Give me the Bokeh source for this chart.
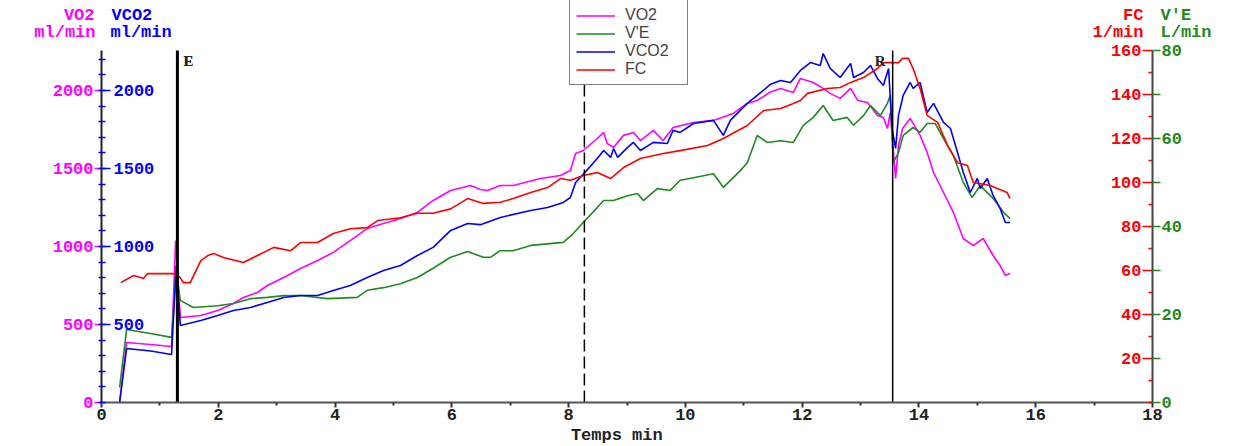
from bokeh.plotting import figure
from bokeh.models import (Range1d, LinearAxis, FixedTicker, Label, Legend, LegendItem)
from bokeh.embed import file_html
from bokeh.resources import INLINE

# ---------------- data ----------------
t_vo2 = [0.31, 0.43, 0.84, 1.20, 1.27, 1.35, 1.70, 1.99, 2.26, 2.43, 2.67, 2.84, 3.12, 3.41, 3.70,
         3.97, 4.26, 4.55, 4.83, 5.12, 5.41, 5.68, 5.98, 6.32, 6.49, 6.61, 6.83, 7.05, 7.35, 7.52,
         7.86, 8.03, 8.12, 8.25, 8.49, 8.60, 8.66, 8.77, 8.94, 9.11, 9.23, 9.45, 9.62, 9.79, 10.14,
         10.48, 10.82, 11.06, 11.23, 11.46, 11.63, 11.85, 11.97, 12.19, 12.36, 12.48, 12.65, 12.83,
         12.95, 13.12, 13.29, 13.39, 13.46, 13.51, 13.60, 13.65, 13.72, 13.85, 14.02, 14.14, 14.25,
         14.42, 14.59, 14.76, 14.93, 15.10, 15.27, 15.39, 15.48, 15.56]
vo2 = [0, 385, 372, 359, 1038, 545, 558, 590, 635, 673, 705, 750, 801, 859, 910,
       962, 1038, 1115, 1147, 1179, 1218, 1295, 1359, 1391, 1365, 1359, 1391, 1391, 1420, 1436,
       1455, 1487, 1596, 1615, 1692, 1731, 1660, 1635, 1712, 1731, 1679, 1744, 1679, 1763, 1795,
       1808, 1853, 1917, 1936, 1990, 2013, 1987, 2077, 2051, 2013, 1981, 1949, 2013,
       1936, 1923, 1840, 1827, 1756, 1859, 1436, 1647, 1756, 1821, 1712, 1603, 1474,
       1346, 1218, 1051, 1006, 1051, 942, 878, 814, 827]

t_vco2 = [0.31, 0.43, 0.84, 1.20, 1.28, 1.35, 1.70, 1.99, 2.26, 2.55, 2.84, 3.12, 3.41, 3.70, 3.97,
          4.26, 4.55, 4.83, 5.12, 5.41, 5.68, 5.98, 6.27, 6.49, 6.83, 7.35, 7.64, 7.91, 8.03, 8.12,
          8.25, 8.49, 8.60, 8.72, 8.77, 8.84, 9.01, 9.11, 9.23, 9.45, 9.69, 9.79, 9.91, 10.14, 10.48,
          10.65, 10.77, 11.06, 11.23, 11.46, 11.63, 11.80, 11.97, 12.14, 12.31, 12.36, 12.48, 12.65,
          12.83, 12.88, 13.05, 13.17, 13.29, 13.39, 13.48, 13.54, 13.60, 13.65, 13.73, 13.85, 13.90,
          14.02, 14.14, 14.25, 14.42, 14.54, 14.66, 14.76, 14.88, 15.00, 15.05, 15.17, 15.27, 15.39,
          15.48, 15.56]
vco2 = [0, 346, 330, 308, 878, 494, 526, 558, 590, 609, 641, 673, 686, 686, 718,
        750, 801, 846, 878, 942, 994, 1103, 1147, 1140, 1186, 1231, 1250, 1282, 1314, 1410,
        1462, 1564, 1615, 1571, 1628, 1571, 1635, 1667, 1615, 1667, 1660, 1744, 1731, 1788, 1808,
        1712, 1808, 1917, 1968, 2040, 2064, 2051, 2128, 2179, 2160, 2237, 2141, 2083,
        2173, 2083, 2115, 2160, 2077, 2032, 2141, 1756, 1628, 1840, 1968, 2051, 2013,
        2051, 1859, 1917, 1795, 1756, 1603, 1474, 1346, 1436, 1372, 1436, 1327, 1244,
        1154, 1154]

t_fc = [0.33, 0.55, 0.72, 0.79, 1.23, 1.35, 1.40, 1.52, 1.70, 1.82, 1.92, 2.09, 2.43, 2.67, 2.95,
        3.24, 3.41, 3.70, 3.97, 4.26, 4.55, 4.73, 5.12, 5.41, 5.68, 5.98, 6.27, 6.54, 6.83, 7.05,
        7.35, 7.64, 7.86, 8.03, 8.25, 8.49, 8.72, 8.94, 9.23, 9.62, 9.91, 10.38, 10.65, 11.06, 11.34,
        11.63, 11.85, 11.97, 12.09, 12.43, 12.65, 12.83, 13.05, 13.29, 13.39, 13.65, 13.72, 13.82,
        13.90, 14.02, 14.14, 14.32, 14.49, 14.66, 14.83, 14.93, 15.22, 15.51, 15.56]
fc = [54.5, 57.7, 56.4, 58.6, 58.6, 56.8, 54.5, 54.5, 64.5, 66.8, 67.7, 65.9, 63.6, 66.8, 70.5,
      69.0, 72.7, 72.7, 76.8, 79.0, 79.5, 82.7, 84.0, 86.0, 86.0, 88.0, 92.7, 90.5, 91.0, 92.7,
      95.5, 97.7, 101.8, 101.0, 103.2, 104.5, 101.8, 106.8, 110.9, 113.2, 114.5, 116.8, 120.0, 125.9, 132.7,
      133.6, 135.9, 137.3, 140.5, 142.7, 143.2, 145.5, 147.7, 151.8, 154.5, 154.5, 156.4, 156.4,
      151.8, 142.7, 130.5, 127.3, 116.8, 109.0, 107.7, 100.0, 98.6, 95.5, 92.7]

t_ve = [0.31, 0.43, 0.84, 1.20, 1.28, 1.35, 1.57, 1.99, 2.26, 2.55, 2.84, 3.12, 3.41, 3.87, 4.38,
        4.55, 4.83, 5.12, 5.41, 5.68, 5.98, 6.27, 6.54, 6.66, 6.83, 7.05, 7.35, 7.91, 8.08, 8.25,
        8.49, 8.60, 8.77, 9.01, 9.18, 9.28, 9.52, 9.74, 9.91, 10.14, 10.48, 10.65, 10.94, 11.06, 11.23,
        11.40, 11.63, 11.85, 12.02, 12.19, 12.36, 12.53, 12.77, 12.88, 13.05, 13.17, 13.34, 13.46,
        13.51, 13.56, 13.65, 13.73, 13.90, 14.02, 14.14, 14.28, 14.42, 14.59, 14.76, 14.91, 15.05,
        15.27, 15.45, 15.56]
ve = [3.4, 16.6, 15.7, 14.8, 30.0, 23.2, 21.6, 22.0, 22.5, 23.6, 23.9, 24.3, 24.3, 23.6, 23.9,
      25.5, 26.1, 27.0, 28.4, 30.5, 33.0, 34.3, 33.0, 33.0, 34.5, 34.5, 35.7, 36.4, 38.4, 40.9,
      44.3, 45.9, 45.9, 47.0, 47.5, 45.9, 48.6, 48.2, 50.5, 51.1, 52.0, 48.9, 52.7, 54.5, 60.7,
      59.1, 59.5, 59.1, 63.0, 64.8, 67.5, 64.1, 64.8, 63.0, 65.2, 67.5, 65.2, 68.0,
      69.8, 54.5, 56.8, 60.7, 62.5, 61.4, 63.4, 63.4, 60.0, 56.1, 50.0, 46.6, 49.3,
      46.4, 43.2, 41.8]

# axes / ticks
x_min, x_max = 0, 18
vo2_max = 2256
fc_max = 160
ve_max = 80
x_ticks = [0, 2, 4, 6, 8, 10, 12, 14, 16, 18]
x_minor = [1, 3, 5, 7, 9, 11, 13, 15, 17]
vo2_ticks = [0, 500, 1000, 1500, 2000]
vco2_ticks = [500, 1000, 1500, 2000]
vo2_minor = list(range(0, 2300, 100))
fc_ticks = [20, 40, 60, 80, 100, 120, 140, 160]
fc_minor = [0, 10, 30, 50, 70, 90, 110, 130, 150]
ve_ticks = [0, 10, 20, 30, 40, 50, 60, 70, 80]
ve_labelled = [0, 20, 40, 60, 80]

# events
event_times = [1.3, 8.27, 13.55]
event_widths = [3, 1.5, 1.5]
event_dashes = ["solid", "12 5", "solid"]

# ---------------- layout (pixels) ----------------
W, H = 1235, 446
PAD_L, PAD_R, PAD_T, PAD_B = 101, 83, 50, 44
plot_w = W - PAD_L - PAD_R
plot_h = H - PAD_T - PAD_B
x_start = x_min - (x_max - x_min) * PAD_L / plot_w
x_end = x_max + (x_max - x_min) * PAD_R / plot_w
top_k = (plot_h + PAD_T) / plot_h
bot_k = PAD_B / plot_h

MAG, GRN, BLU, RED = "#FF00FF", "#1F8A1F", "#0000FF", "#FF0000"
MONO = "Liberation Mono"
FS = "17px"

p = figure(width=W, height=H, x_range=Range1d(x_start, x_end),
           y_range=Range1d(-vo2_max * bot_k, vo2_max * top_k),
           output_backend="svg", toolbar_location=None, x_axis_type=None, y_axis_type=None,
           min_border_left=0, min_border_right=0, min_border_top=0, min_border_bottom=0)
p.extra_y_ranges = {"fc": Range1d(-fc_max * bot_k, fc_max * top_k),
                    "ve": Range1d(-ve_max * bot_k, ve_max * top_k)}
p.outline_line_color = None
p.xgrid.visible = False
p.ygrid.visible = False
p.background_fill_color = "white"
p.border_fill_color = "white"


def style_labels(ax, color):
    ax.major_label_text_font = MONO
    ax.major_label_text_font_size = FS
    ax.major_label_text_font_style = "bold"
    ax.major_label_text_color = color


# bottom axis (time)
xa = LinearAxis(ticker=FixedTicker(ticks=x_ticks, minor_ticks=x_minor), axis_label="Temps   min",
                bounds=(x_min, x_max), fixed_location=0)
xa.axis_line_color = "#555555"
xa.axis_line_width = 2
xa.major_tick_line_color = "#333333"
xa.major_tick_line_width = 2
xa.major_tick_out = 5
xa.major_tick_in = 0
xa.minor_tick_line_color = "#333333"
xa.minor_tick_line_width = 2
xa.minor_tick_out = 3
xa.minor_tick_in = 0
xa.major_label_standoff = 1
style_labels(xa, "#222222")
xa.axis_label_text_font = MONO
xa.axis_label_text_font_size = FS
xa.axis_label_text_font_style = "bold"
xa.axis_label_text_color = "#222222"
xa.axis_label_standoff = 3
p.add_layout(xa, "below")

# left axis: VO2 (magenta labels to the left)
ya = LinearAxis(ticker=FixedTicker(ticks=vo2_ticks, minor_ticks=vo2_minor),
                fixed_location=x_min, bounds=(0, vo2_max))
ya.axis_line_color = "#222222"
ya.axis_line_width = 2
ya.major_tick_line_color = MAG
ya.major_tick_line_width = 1.5
ya.major_tick_out = 7
ya.major_tick_in = 0
ya.minor_tick_line_color = BLU
ya.minor_tick_line_width = 1.5
ya.minor_tick_out = 3
ya.minor_tick_in = 4
ya.major_label_standoff = 1
style_labels(ya, MAG)
p.add_layout(ya, "left")

# VCO2 labels (blue, to the right of the same line)
yb = LinearAxis(ticker=FixedTicker(ticks=vco2_ticks, minor_ticks=[]), fixed_location=x_min)
yb.axis_line_color = None
yb.major_tick_line_color = BLU
yb.major_tick_line_width = 1.5
yb.major_tick_out = 9
yb.major_tick_in = 0
yb.minor_tick_line_color = None
yb.major_label_standoff = 3
style_labels(yb, BLU)
p.add_layout(yb, "right")

# FC labels (red, to the left of the right line)
yr = LinearAxis(y_range_name="fc", ticker=FixedTicker(ticks=fc_ticks, minor_ticks=fc_minor),
                fixed_location=x_max)
yr.axis_line_color = None
yr.major_tick_line_color = RED
yr.major_tick_line_width = 1.5
yr.major_tick_out = 10
yr.major_tick_in = 0
yr.minor_tick_line_color = RED
yr.minor_tick_line_width = 1.5
yr.minor_tick_out = 4
yr.minor_tick_in = 0
yr.major_label_standoff = 1
style_labels(yr, RED)
p.add_layout(yr, "left")

# V'E labels (green, to the right)
ra = LinearAxis(y_range_name="ve", ticker=FixedTicker(ticks=ve_ticks, minor_ticks=[]),
                major_label_overrides={t: "" for t in ve_ticks if t not in ve_labelled},
                fixed_location=x_max, bounds=(0, ve_max))
ra.axis_line_color = "#444444"
ra.axis_line_width = 2
ra.major_tick_line_color = GRN
ra.major_tick_line_width = 1.5
ra.major_tick_out = 8
ra.major_tick_in = 0
ra.minor_tick_line_color = None
ra.major_label_standoff = 1
style_labels(ra, GRN)
p.add_layout(ra, "right")

# series
r_vo2 = p.line(t_vo2, vo2, line_color=MAG, line_width=1.6)
r_ve = p.line(t_ve, ve, line_color=GRN, line_width=1.6, y_range_name="ve")
r_vco2 = p.line(t_vco2, vco2, line_color=BLU, line_width=1.6)
r_fc = p.line(t_fc, fc, line_color=RED, line_width=1.6, y_range_name="fc")

# event lines (from the x axis up to the top of the y axes)
for t, w, d in zip(event_times, event_widths, event_dashes):
    p.segment(x0=[t], y0=[0], x1=[t], y1=[vo2_max], line_color="black", line_width=w, line_dash=d)
ev_y = H - PAD_T - 2
for txt in ["E", "F"]:
    p.add_layout(Label(x=event_times[0], y=ev_y, x_units="data", y_units="screen", x_offset=6,
                       text=txt, text_baseline="top", text_align="left",
                       text_font="Liberation Serif", text_font_style="bold",
                       text_font_size="15px", text_color="#222222"))
p.add_layout(Label(x=event_times[2], y=ev_y, x_units="data", y_units="screen", x_offset=-7,
                   text="R", text_baseline="top", text_align="right",
                   text_font="Liberation Serif", text_font_style="bold",
                   text_font_size="15px", text_color="#222222"))

# header unit labels (screen px from the canvas bottom-left)
y1 = H - 15
y2 = H - 32
headers = [("VO2", PAD_L - 7, y1, "right", MAG), ("ml/min", PAD_L - 6, y2, "right", MAG),
           ("VCO2", PAD_L + 10, y1, "left", BLU), ("ml/min", PAD_L + 9, y2, "left", BLU),
           ("FC", PAD_L + plot_w - 9, y1, "right", RED), ("1/min", PAD_L + plot_w - 9, y2, "right", RED),
           ("V'E", PAD_L + plot_w + 8, y1, "left", GRN), ("L/min", PAD_L + plot_w + 8, y2, "left", GRN)]
for txt, hx, hy, al, col in headers:
    p.add_layout(Label(x=hx, y=hy, x_units="screen", y_units="screen", text=txt,
                       text_align=al, text_baseline="middle", text_color=col,
                       text_font=MONO, text_font_size=FS, text_font_style="bold"))

# legend
legend = Legend(items=[LegendItem(label="VO2", renderers=[r_vo2]),
                       LegendItem(label="V'E", renderers=[r_ve]),
                       LegendItem(label="VCO2", renderers=[r_vco2]),
                       LegendItem(label="FC", renderers=[r_fc])],
                location=(569, H - 85))
legend.border_line_color = "black"
legend.border_line_width = 1
legend.background_fill_color = "white"
legend.background_fill_alpha = 1
legend.label_text_font = "Liberation Sans"
legend.label_text_font_size = "16px"
legend.label_text_line_height = 1.0
legend.glyph_width = 39
legend.glyph_height = 17
legend.label_height = 17
legend.label_width = 56
legend.label_standoff = 10
legend.padding = 6
legend.spacing = 0
legend.margin = 0
p.add_layout(legend, "center")

open("out.html", "w").write(file_html(p, INLINE))
